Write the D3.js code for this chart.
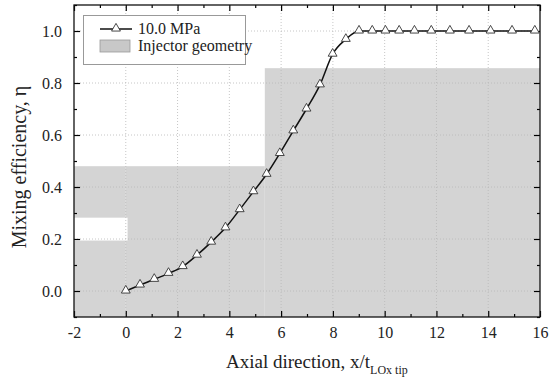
<!DOCTYPE html>
<html><head><meta charset="utf-8">
<script src="https://cdn.jsdelivr.net/npm/d3@7"></script>
<style>html,body{margin:0;padding:0;background:#fff;}svg{display:block;} text{font-family:"Liberation Serif","Times New Roman",serif !important;}</style>
</head><body>
<script>
// Data
const xVals = [0, 0.55, 1.1, 1.65, 2.2, 2.75, 3.3, 3.85, 4.4, 4.93, 5.44, 5.95, 6.47, 6.98, 7.5, 7.99, 8.5, 9.01, 9.52, 10.03, 10.56, 11.15, 11.8, 12.52, 13.26, 14.09, 14.92, 15.8];
const etaVals = [0, 0.023, 0.045, 0.068, 0.094, 0.138, 0.188, 0.243, 0.313, 0.382, 0.449, 0.529, 0.616, 0.70, 0.793, 0.911, 0.968, 1.0, 1.0, 1.0, 1.0, 1.0, 1.0, 1.0, 1.0, 1.0, 1.0, 1.0];
// Injector geometry (step outline): x-start, x-end, top
const geoX0 = [-2, 0, 5.37];
const geoX1 = [0, 5.37, 16];
const geoTop = [0.48, 0.48, 0.857];
// Gap in geometry (white slot)
const gapX = [-2, 0.07];
const gapY = [0.194, 0.282];
const xTicks = [-2, 0, 2, 4, 6, 8, 10, 12, 14, 16];
const yTicks = [0.0, 0.2, 0.4, 0.6, 0.8, 1.0];
const seriesName = "10.0 MPa";
const geoName = "Injector geometry";

const W = 549, H = 389;
const m = {l: 74, r: 9, t: 5, b: 72};
const svg = d3.select("body").append("svg").attr("width", W).attr("height", H);
const x = d3.scaleLinear().domain([-2, 16]).range([m.l, W - m.r]);
const y = d3.scaleLinear().domain([-0.1, 1.1]).range([H - m.b, m.t]);

const g = svg.append("g");
const fillCol = "#d4d4d4";
// geometry fill
geoX0.forEach((x0, i) => {
  g.append("rect").attr("x", x(x0)).attr("width", x(geoX1[i]) - x(x0))
    .attr("y", y(geoTop[i])).attr("height", y(-0.1) - y(geoTop[i])).attr("fill", fillCol);
});
g.append("rect").attr("x", x(gapX[0])).attr("width", x(gapX[1]) - x(gapX[0]))
  .attr("y", y(gapY[1])).attr("height", y(gapY[0]) - y(gapY[1])).attr("fill", "#fff");

// grid
const gridCol = "#b8b8b8";
xTicks.slice(1, -1).forEach(t => {
  g.append("line").attr("x1", x(t)).attr("x2", x(t)).attr("y1", y(-0.1)).attr("y2", y(1.1))
    .attr("stroke", gridCol).attr("stroke-width", 0.8).attr("stroke-dasharray", "1,2");
});
yTicks.forEach(t => {
  g.append("line").attr("y1", y(t)).attr("y2", y(t)).attr("x1", x(-2)).attr("x2", x(16))
    .attr("stroke", gridCol).attr("stroke-width", 0.8).attr("stroke-dasharray", "1,2");
});

// axes with inner ticks
const xMinor = d3.range(-1, 16, 2);
const yMinor = [-0.1, 0.1, 0.3, 0.5, 0.7, 0.9, 1.1];
function addAxis(axisGen, transform) {
  const a = svg.append("g").attr("transform", transform).call(axisGen);
  a.attr("font-family", null);
  a.select(".domain").remove();
  a.selectAll("line").attr("stroke", "#000").attr("stroke-width", 1.2);
  return a;
}
const fmtX = d => String(d);
// bottom major (labels)
const bx = addAxis(d3.axisBottom(x).tickValues(xTicks).tickSizeInner(-6).tickSizeOuter(0).tickPadding(10).tickFormat(fmtX), `translate(0,${y(-0.1)})`);
bx.selectAll("text").attr("font-size", 16).attr("fill", "#222");
addAxis(d3.axisBottom(x).tickValues(xMinor).tickSizeInner(-3).tickSizeOuter(0).tickFormat(""), `translate(0,${y(-0.1)})`);
addAxis(d3.axisTop(x).tickValues(xTicks).tickSizeInner(-6).tickSizeOuter(0).tickFormat(""), `translate(0,${y(1.1)})`);
addAxis(d3.axisTop(x).tickValues(xMinor).tickSizeInner(-3).tickSizeOuter(0).tickFormat(""), `translate(0,${y(1.1)})`);
const ly = addAxis(d3.axisLeft(y).tickValues(yTicks).tickSizeInner(-6).tickSizeOuter(0).tickPadding(12).tickFormat(d => d.toFixed(1)), `translate(${x(-2)},0)`);
ly.selectAll("text").attr("font-size", 16).attr("fill", "#222");
addAxis(d3.axisLeft(y).tickValues(yMinor).tickSizeInner(-3).tickSizeOuter(0).tickFormat(""), `translate(${x(-2)},0)`);
addAxis(d3.axisRight(y).tickValues(yTicks).tickSizeInner(-6).tickSizeOuter(0).tickFormat(""), `translate(${x(16)},0)`);
addAxis(d3.axisRight(y).tickValues(yMinor).tickSizeInner(-3).tickSizeOuter(0).tickFormat(""), `translate(${x(16)},0)`);

// frame
svg.append("rect").attr("x", x(-2)).attr("y", y(1.1)).attr("width", x(16) - x(-2)).attr("height", y(-0.1) - y(1.1))
  .attr("fill", "none").attr("stroke", "#111").attr("stroke-width", 1.3);

// series line
const data = xVals.map((v, i) => [v, etaVals[i]]);
const line = d3.line().x(d => x(d[0])).y(d => y(d[1])).curve(d3.curveMonotoneX);
svg.append("path").datum(data).attr("d", line).attr("fill", "none").attr("stroke", "#111").attr("stroke-width", 1.5);
const tri = d3.symbol().type(d3.symbolTriangle).size(34);
svg.selectAll(".pt").data(data).join("path").attr("class", "pt")
  .attr("d", tri).attr("transform", d => `translate(${x(d[0])},${y(d[1]) - 0.5})`)
  .attr("fill", "#fff").attr("stroke", "#333").attr("stroke-width", 0.9);

// legend
const lg = svg.append("g");
lg.append("rect").attr("x", 83.5).attr("y", 15.5).attr("width", 162).attr("height", 49)
  .attr("fill", "#fff").attr("stroke", "#999").attr("stroke-width", 1);
lg.append("line").attr("x1", 100).attr("x2", 132).attr("y1", 29).attr("y2", 29).attr("stroke", "#111").attr("stroke-width", 1.5);
lg.append("path").attr("d", tri).attr("transform", "translate(116,28.5)").attr("fill", "#fff").attr("stroke", "#333").attr("stroke-width", 0.9);
lg.append("text").attr("x", 138).attr("y", 34).text(seriesName).attr("font-size", 16).attr("fill", "#222");
lg.append("rect").attr("x", 100).attr("y", 40).attr("width", 30).attr("height", 12).attr("fill", "#c8c8c8").attr("stroke", "#999").attr("stroke-width", 0.8);
lg.append("text").attr("x", 138).attr("y", 51).text(geoName).attr("font-size", 16).attr("fill", "#222");

// axis titles
const xt = svg.append("text").attr("x", 226).attr("y", 368).attr("font-size", 19).attr("fill", "#222");
xt.append("tspan").text("Axial direction, x/t");
xt.append("tspan").attr("dy", 6).attr("font-size", 12).text("LOx tip");
svg.append("text").attr("transform", `translate(26,${167}) rotate(-90)`).attr("text-anchor", "middle")
  .attr("font-size", 20).attr("fill", "#222").text("Mixing efficiency, \u03b7");
</script>
</body></html>
